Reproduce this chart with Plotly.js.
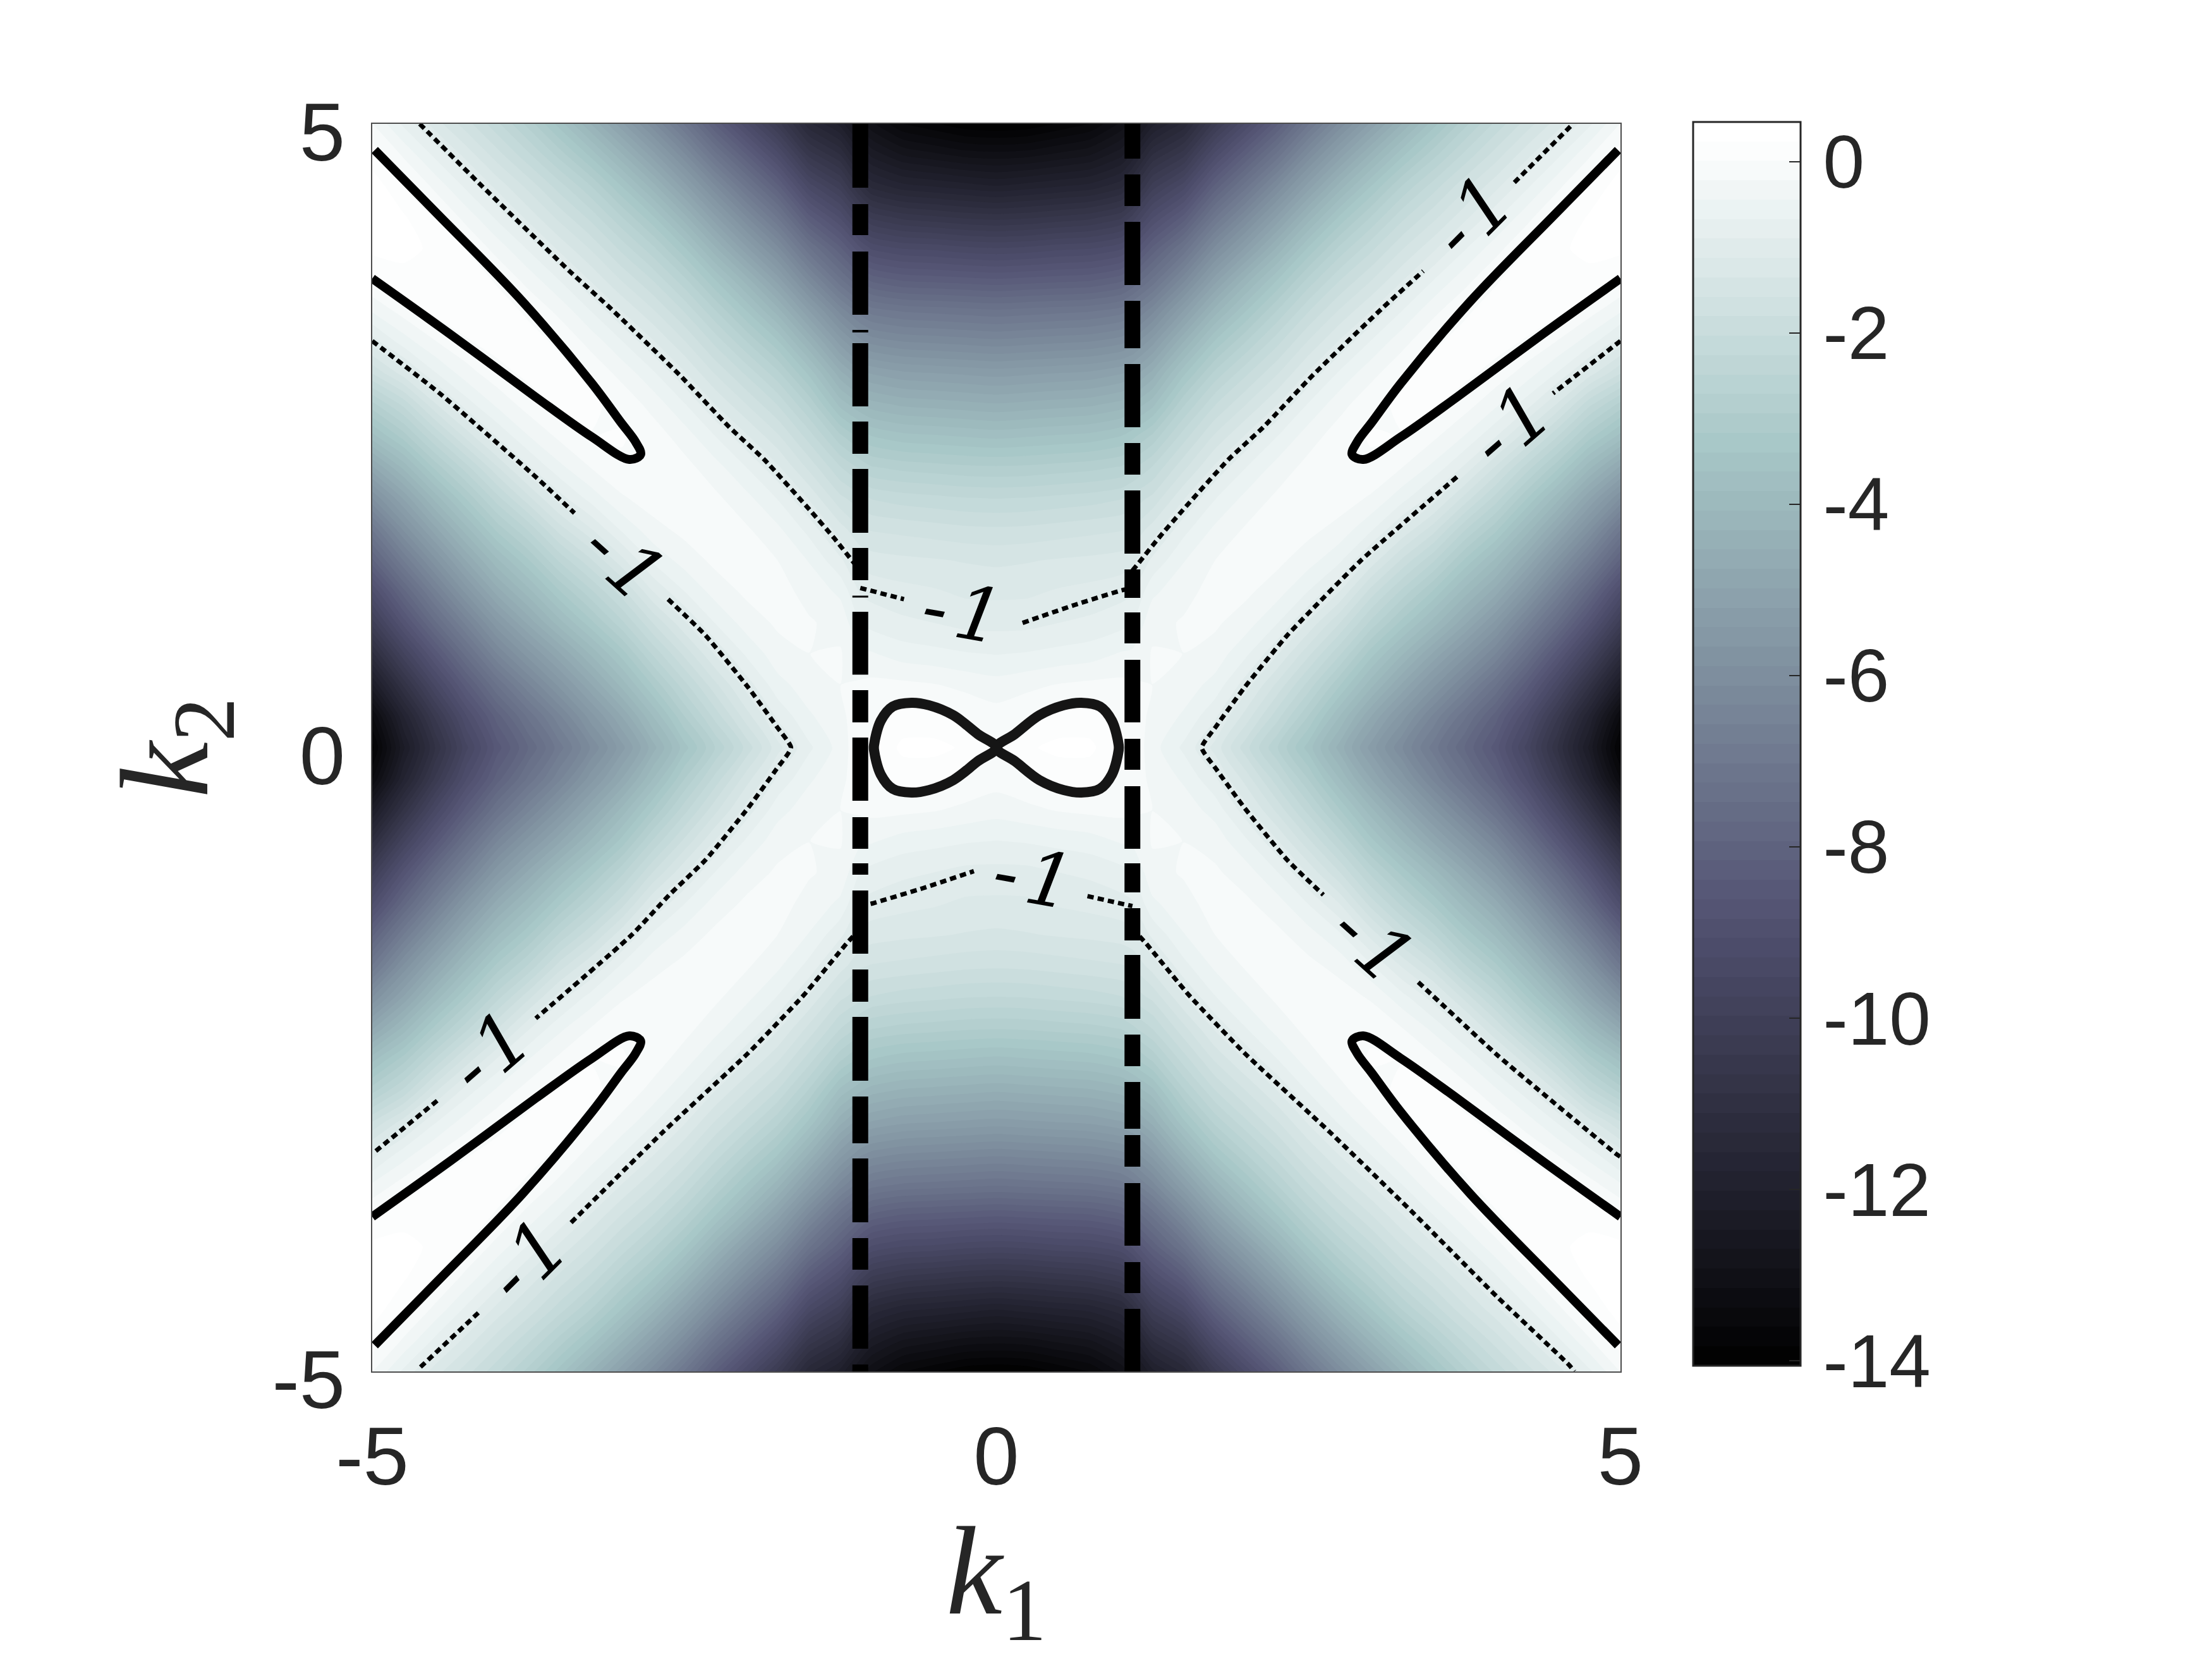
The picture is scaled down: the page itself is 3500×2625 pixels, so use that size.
<!DOCTYPE html>
<html><head><meta charset="utf-8">
<script src="https://cdn.plot.ly/plotly-3.0.1.min.js"></script>
<style>html,body{margin:0;padding:0;background:#fff}</style></head>
<body><div id="chart" style="width:3500px;height:2625px"></div>
<script>
// Values: one quadrant of the field (the picture is mirror symmetric).
// Each row of zByColumn is one k1 column, listed from k2 = 0 up to k2 = 5.
const k1Read = [0,0.25,0.5,0.75,1,1.09,1.25,1.5,1.75,2,2.25,2.5,2.75,3,3.25,3.5,3.75,4,4.25,4.5,4.75,5];
const k2Read = [0,0.25,0.5,0.75,1,1.25,1.5,1.75,2,2.25,2.5,2.75,3,3.25,3.5,3.75,4,4.25,4.5,4.75,5];
const zByColumn = [
 [0,-0.12,-0.35,-0.68,-0.98,-1.18,-1.4,-1.77,-2.27,-2.92,-3.7,-4.5,-5.3,-6.25,-7.2,-8.35,-9.5,-10.75,-12,-13.05,-14.05],
 [0.2,-0.02,-0.28,-0.65,-0.97,-1.17,-1.37,-1.75,-2.25,-2.9,-3.65,-4.45,-5.25,-6.2,-7.15,-8.3,-9.45,-10.7,-11.9,-13,-14],
 [0.3,0.08,-0.2,-0.6,-0.9,-1.1,-1.33,-1.7,-2.2,-2.85,-3.6,-4.4,-5.2,-6.15,-7.1,-8.25,-9.35,-10.6,-11.8,-12.85,-13.8],
 [0.28,0.12,-0.16,-0.55,-0.85,-1.05,-1.3,-1.65,-2.15,-2.8,-3.55,-4.35,-5.15,-6.1,-7.05,-8.2,-9.3,-10.5,-11.7,-12.7,-13.6],
 [0.05,-0.02,-0.15,-0.42,-0.75,-0.98,-1.25,-1.6,-2.05,-2.7,-3.4,-4.2,-5,-5.95,-6.9,-8,-9.1,-10.25,-11.4,-12.3,-13.1],
 [-0.03,-0.08,-0.18,-0.4,-0.68,-0.93,-1.18,-1.55,-1.95,-2.55,-3.25,-4.05,-4.9,-5.8,-6.7,-7.75,-8.8,-9.9,-11,-11.95,-12.8],
 [-0.35,-0.28,-0.22,-0.2,-0.28,-0.5,-0.85,-1.25,-1.75,-2.25,-2.9,-3.7,-4.45,-5.3,-6.2,-7.2,-8.1,-9.1,-10.1,-11.1,-12.1],
 [-0.72,-0.48,-0.32,-0.22,-0.2,-0.28,-0.46,-0.75,-1.15,-1.65,-2.15,-2.75,-3.45,-4.3,-5.2,-6.2,-7.2,-8.3,-9.4,-10.5,-11.5],
 [-1.2,-0.85,-0.53,-0.31,-0.18,-0.15,-0.22,-0.4,-0.69,-1.09,-1.55,-2.05,-2.65,-3.35,-4.2,-5.1,-6.05,-7.05,-8.1,-9.2,-10.3],
 [-1.95,-1.45,-1.02,-0.63,-0.34,-0.17,-0.12,-0.19,-0.38,-0.68,-1.1,-1.58,-2.08,-2.7,-3.4,-4.2,-5.15,-6.1,-7.1,-8.15,-9.25],
 [-2.7,-2.17,-1.64,-1.1,-0.66,-0.35,-0.16,-0.1,-0.17,-0.36,-0.68,-1.13,-1.6,-2.1,-2.7,-3.4,-4.25,-5.15,-6.1,-7.15,-8.2],
 [-3.5,-2.95,-2.35,-1.75,-1.16,-0.68,-0.35,-0.15,-0.08,-0.14,-0.33,-0.65,-1.09,-1.55,-2.05,-2.65,-3.35,-4.2,-5.1,-6.05,-7.05],
 [-4.4,-3.85,-3.15,-2.45,-1.8,-1.13,-0.63,-0.3,-0.1,-0.03,-0.1,-0.3,-0.63,-1.09,-1.55,-2.05,-2.65,-3.35,-4.2,-5.1,-6.05],
 [-5.3,-4.75,-4.0,-3.3,-2.55,-1.9,-1.2,-0.63,-0.25,-0.03,0.03,-0.06,-0.29,-0.65,-1.13,-1.6,-2.1,-2.7,-3.4,-4.25,-5.15],
 [-6.1,-5.55,-4.8,-4.05,-3.25,-2.55,-1.85,-1.15,-0.58,-0.21,0,0.05,-0.05,-0.29,-0.67,-1.15,-1.6,-2.1,-2.7,-3.45,-4.3],
 [-6.9,-6.4,-5.6,-4.8,-3.95,-3.2,-2.45,-1.7,-1,-0.5,-0.16,0.04,0.08,-0.03,-0.28,-0.68,-1.18,-1.65,-2.15,-2.8,-3.5],
 [-7.7,-7.2,-6.4,-5.55,-4.7,-3.95,-3.2,-2.45,-1.65,-0.93,-0.45,-0.11,0.06,0.09,-0.03,-0.3,-0.7,-1.2,-1.65,-2.2,-2.8],
 [-8.5,-8.05,-7.25,-6.35,-5.5,-4.65,-3.9,-3.1,-2.35,-1.6,-0.87,-0.4,-0.07,0.09,0.11,-0.02,-0.3,-0.72,-1.2,-1.7,-2.2],
 [-9.6,-9.1,-8.3,-7.4,-6.5,-5.6,-4.75,-3.95,-3.15,-2.35,-1.5,-0.79,-0.33,-0.02,0.14,0.14,0,-0.29,-0.72,-1.2,-1.7],
 [-10.9,-10.4,-9.5,-8.55,-7.55,-6.65,-5.75,-4.85,-4,-3.1,-2.25,-1.4,-0.7,-0.24,0.06,0.2,0.2,0.04,-0.27,-0.72,-1.23],
 [-12.3,-11.8,-10.85,-9.8,-8.75,-7.8,-6.8,-5.85,-4.95,-4,-3.05,-2.2,-1.25,-0.57,-0.12,0.17,0.29,0.26,0.08,-0.25,-0.72],
 [-13.9,-13.4,-12.3,-11.2,-10.1,-9.1,-8,-7,-5.9,-4.8,-3.7,-2.8,-1.8,-1.02,-0.42,0.02,0.29,0.4,0.34,0.14,-0.21]
];
// zero-level curves
const tongueK1 = [4.98,4.48,3.8,3.24,3.01,2.89,2.85,2.94,3.24,3.69,4.37,5];
const tongueK2 = [4.79,4.28,3.58,2.92,2.61,2.45,2.35,2.31,2.49,2.81,3.31,3.76];
const eightK1 = [0,0.15,0.345,0.54,0.68,0.83,0.926,0.98,0.98,0.926,0.83,0.68,0.54,0.345,0.15,0];
const eightK2 = [0,0.11,0.26,0.34,0.36,0.33,0.215,0.02,-0.02,-0.215,-0.33,-0.36,-0.34,-0.26,-0.11,0];
// level -1 curves, segment by segment
const minusOne = [
 {k1:[-4.62,-4.15,-3.42,-3.1,-2.54,-2.14,-1.86,-1.49,-1.3,-1.14,-1.09], k2:[5,4.53,3.82,3.53,2.99,2.57,2.31,1.9,1.68,1.48,1.42]},
 {k1:[-5,-4.46,-3.69,-3.38], k2:[3.26,2.84,2.17,1.88]},
 {k1:[-2.63,-2.33,-1.99,-1.76,-1.645,-1.76,-1.99,-2.33,-2.62,-2.92,-3.69], k2:[1.19,0.9,0.485,0.17,0,-0.17,-0.485,-0.9,-1.18,-1.5,-2.17]},
 {k1:[-4.48,-4.98], k2:[-2.83,-3.24]},
 {k1:[-1.09,-1.2,-1.54,-1.99,-2.67,-3.42], k2:[-1.45,-1.57,-1.98,-2.45,-3.08,-3.82]},
 {k1:[-4.15,-4.63], k2:[-4.53,-4.98]},
 {k1:[1.09,1.14,1.3,1.49,1.86,2.14,2.54,3.1,3.42], k2:[1.42,1.48,1.68,1.9,2.31,2.57,2.99,3.53,3.82]},
 {k1:[4.15,4.62], k2:[4.53,5]},
 {k1:[5,4.46], k2:[3.26,2.84]},
 {k1:[3.69,2.92,2.6,2.33,1.99,1.76,1.645,1.76,1.99,2.33,2.62], k2:[2.17,1.5,1.18,0.9,0.485,0.17,0,-0.17,-0.485,-0.9,-1.18]},
 {k1:[3.38,4.02,4.97,5], k2:[-1.88,-2.47,-3.26,-3.28]},
 {k1:[1.09,1.2,1.54,1.99,2.67,3.34,4.02,4.59,4.63], k2:[-1.45,-1.57,-1.98,-2.45,-3.08,-3.73,-4.41,-4.95,-5]},
 {k1:[-1.09,-0.74], k2:[1.28,1.19]},
 {k1:[0.21,0.63,1.0,1.09], k2:[1.0,1.145,1.26,1.28]},
 {k1:[-1.09,-1.0,-0.59,-0.18], k2:[-1.27,-1.25,-1.127,-0.99]},
 {k1:[0.73,1.09], k2:[-1.19,-1.27]}
];
const labelK1 = [-2.98,-0.27,0.30,3.81,4.115,-4.06,-3.76,3.02];
const labelK2 = [1.495,1.09,-1.04,4.26,2.58,-2.44,-4.11,-1.57];
const labelAngle = [42,10,10,-45,-41,-41,-45,42];
const labelText = '-\u200a1';
const stationK1 = [-1.09,1.09];
const stationK2 = [5,-5];
const axisTicks = [-5,0,5];
const barTicks = [0,-2,-4,-6,-8,-10,-12,-14];

const boneScale = [[0,'rgb(0,0,0)'],[0.375,'rgb(84,84,116)'],[0.75,'rgb(167,199,199)'],[1,'rgb(255,255,255)']];
const mirrorAxis = a => a.slice(1).map(v=>-v).reverse().concat(a);
const mirrorRow = r => r.slice(1).reverse().concat(r);
const zRows = k2Read.map((_,j)=>zByColumn.map(col=>col[j]));
const zFull = zRows.slice(1).reverse().concat(zRows).map(mirrorRow);

const dashL = '101px,26px,49px,26px,100px,24px,4px,17px,100px,24px,51px,24px,101px,24px,51px,24.5px,3px,22.5px,99.5px,24.5px,51px,24px,100px,26px,50px,23px,18px,25px,100px,25px,51px,24px,101px,25px,74px,24px,101px,25px,50px,25px,100px,25px,12px,100px';
const dashR = '55px,25px,50px,25px,100px,25px,75px,25px,100px,25px,50px,25px,100px,25px,45px,23px,49px,26px,99px,26px,49px,26px,99px,23px,46px,25px,51px,23px,101px,25px,50px,25px,74px,10px,50px,26px,99px,26px,49px,25px,100px,100px';

const traces = [{
  type:'contour', x:mirrorAxis(k1Read), y:mirrorAxis(k2Read), z:zFull,
  colorscale:boneScale, zmin:-14.06, zmax:0.46, zauto:false,
  contours:{coloring:'fill', start:-14.06, end:0.46, size:0.2269, showlines:false},
  line:{width:0, smoothing:0.6},
  hoverinfo:'skip',
  colorbar:{
    tickmode:'array', tickvals:barTicks, ticktext:barTicks.map(v=>'\u200a'+String(v)),
    ticks:'inside', ticklen:19, tickwidth:2, tickcolor:'#262626',
    tickfont:{family:'"Liberation Sans",Arial,sans-serif', size:118, color:'#262626'},
    outlinewidth:3, outlinecolor:'#262626',
    thickness:170, thicknessmode:'pixels', len:1968, lenmode:'pixels',
    x:1.058, xanchor:'left', y:0.5028, yanchor:'middle', xpad:0, ypad:0
  }
}];
const signs = [[1,1],[-1,1],[-1,-1],[1,-1]];
signs.forEach(s=>traces.push({type:'scatter', mode:'lines', x:tongueK1.map(v=>v*s[0]), y:tongueK2.map(v=>v*s[1]),
  line:{color:'#000', width:14, shape:'spline', smoothing:1}, cliponaxis:false, showlegend:false, hoverinfo:'skip'}));
[1,-1].forEach(s=>traces.push({type:'scatter', mode:'lines', x:eightK1.map(v=>v*s), y:eightK2,
  line:{color:'#151515', width:16, shape:'spline', smoothing:1}, showlegend:false, hoverinfo:'skip'}));
minusOne.forEach(seg=>traces.push({type:'scatter', mode:'lines', x:seg.k1, y:seg.k2,
  line:{color:'#000', width:7, dash:'10px,6.5px', shape:'spline', smoothing:0.5}, showlegend:false, hoverinfo:'skip'}));
traces.push({type:'scatter', mode:'lines', x:[stationK1[0],stationK1[0]], y:stationK2,
  line:{color:'#000', width:25, dash:dashL}, showlegend:false, hoverinfo:'skip'});
traces.push({type:'scatter', mode:'lines', x:[stationK1[1],stationK1[1]], y:stationK2,
  line:{color:'#000', width:25, dash:dashR}, showlegend:false, hoverinfo:'skip'});

const annotations = labelK1.map((x,i)=>({x:x, y:labelK2[i], xref:'x', yref:'y', text:'<i>'+labelText+'</i>',
  showarrow:false, textangle:labelAngle[i], xanchor:'center', yanchor:'middle',
  font:{family:'"DejaVu Serif",serif', size:118, color:'#000'}}));

const tickFont = {family:'"Liberation Sans",Arial,sans-serif', size:130, color:'#262626'};
const titleFont = {family:'"Liberation Serif",serif', size:200, color:'#262626'};
const layout = {
  width:3500, height:2625, paper_bgcolor:'#fff', plot_bgcolor:'#fff', showlegend:false,
  margin:{l:589, r:936, t:196, b:454.5, pad:0},
  xaxis:{range:[-5,5], tickmode:'array', tickvals:axisTicks, ticktext:axisTicks.map(String), ticks:'', showgrid:false, zeroline:false,
    showline:true, mirror:true, linewidth:2, linecolor:'#4d4d4d', tickfont:tickFont, ticklabelstandoff:21,
    title:{text:'<i>k</i><sub>1</sub>', font:titleFont, standoff:109}},
  yaxis:{range:[-5,5], tickmode:'array', tickvals:axisTicks, ticktext:axisTicks.map(String), ticks:'', showgrid:false, zeroline:false,
    showline:true, mirror:true, linewidth:2, linecolor:'#4d4d4d', tickfont:tickFont, ticklabelstandoff:15, ticklabelshift:12,
    title:{text:'<i>k</i><sub>2</sub>', font:titleFont, standoff:33}},
  annotations:annotations
};
Plotly.newPlot('chart', traces, layout, {displayModeBar:false, staticPlot:true});
</script></body></html>
